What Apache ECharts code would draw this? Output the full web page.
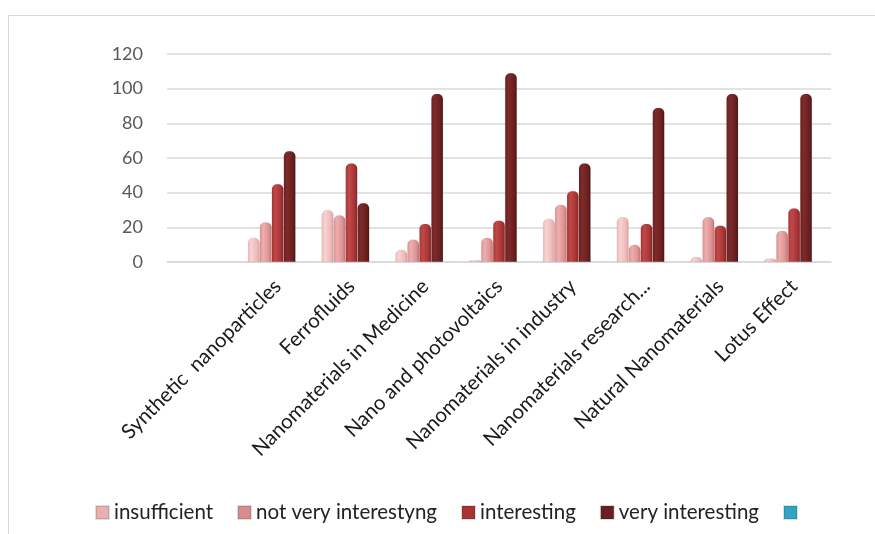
<!DOCTYPE html>
<html>
<head>
<meta charset="utf-8">
<script src="https://cdn.jsdelivr.net/npm/echarts@6/dist/echarts.min.js"></script>
<style>
html,body{margin:0;padding:0;background:#fff;}
#frame{position:absolute;left:8px;top:15px;width:880px;height:530px;border-top:1.5px solid #d9d9d9;border-left:1.5px solid #d9d9d9;}
#main{position:absolute;left:0;top:0;width:875px;height:534px;}
</style>
</head>
<body>
<div id="frame"></div>
<div id="main"></div>
<script>
var categories = ['', 'Synthetic  nanoparticles', 'Ferrofluids', 'Nanomaterials in Medicine', 'Nano and photovoltaics', 'Nanomaterials in industry', 'Nanomaterials research...', 'Natural Nanomaterials', 'Lotus Effect'];
var seriesNames = ['insufficient', 'not very interestyng', 'interesting', 'very interesting', ' '];
var insufficient = [null, 14, 30, 7, 1, 25, 26, 3, 2];
var notVeryInteresting = [null, 23, 27, 13, 14, 33, 10, 26, 18];
var interesting = [null, 45, 57, 22, 24, 41, 22, 21, 31];
var veryInteresting = [null, 64, 34, 97, 109, 57, 89, 97, 97];
var blank = [null, null, null, null, null, null, null, null, null];
var yTicks = [0, 20, 40, 60, 80, 100, 120];

function grad(light, mid, dark) {
  return new echarts.graphic.LinearGradient(0, 0, 1, 0, [
    {offset: 0, color: mid},
    {offset: 0.3, color: light},
    {offset: 0.75, color: mid},
    {offset: 1, color: dark}
  ]);
}
var styles = [
  grad('#f8d2d2', '#efbaba', '#d9a0a0'),
  grad('#eeaeae', '#dd9292', '#c07474'),
  grad('#c04848', '#a83535', '#842424'),
  grad('#7e2a2a', '#6a2020', '#4e1515'),
  grad('#5cc8e6', '#31a4c6', '#1d7f9c')
];
var legendColors = ['#e8b0b0', '#d98c8c', '#a83535', '#6a2020', '#31a4c6'];

var dataSets = [insufficient, notVeryInteresting, interesting, veryInteresting, blank];
var series = dataSets.map(function (d, i) {
  return {
    name: seriesNames[i],
    type: 'bar',
    data: d,
    barGap: '0%',
    barCategoryGap: '19%',
    itemStyle: {color: styles[i], borderRadius: [5, 5, 0, 0], borderColor: 'rgba(0,0,0,0.12)', borderWidth: 0.5},
    emphasis: {disabled: true}
  };
});

var chart = echarts.init(document.getElementById('main'));
chart.setOption({
  animation: false,
  backgroundColor: 'transparent',
  color: legendColors,
  grid: {left: 167, right: 44, top: 54, bottom: 272, outerBoundsMode: 'none'},
  legend: {
    data: seriesNames.map(function (n, i) { return {name: n, itemStyle: {color: legendColors[i]}}; }),
    left: 90, top: 497,
    icon: 'rect', itemWidth: 13, itemHeight: 13, itemGap: 24,
    textStyle: {fontFamily: 'Lato', fontSize: 20.5, color: '#222'}
  },
  xAxis: {
    type: 'category',
    data: categories,
    axisLine: {lineStyle: {color: '#d9d9d9', width: 1.5}},
    axisTick: {show: false},
    axisLabel: {
      interval: 0, rotate: 45, margin: 21,
      fontFamily: 'Lato', fontSize: 20.5, color: '#1a1a1a'
    }
  },
  yAxis: {
    type: 'value', min: 0, max: 120, interval: 20,
    axisLine: {show: false}, axisTick: {show: false},
    splitLine: {lineStyle: {color: '#d9d9d9', width: 1.5}},
    axisLabel: {margin: 24, fontFamily: 'Lato', fontSize: 18, color: '#595959',
      formatter: function (v) { return yTicks.indexOf(v) >= 0 ? String(v) : ''; }}
  },
  series: series
});
</script>
</body>
</html>
